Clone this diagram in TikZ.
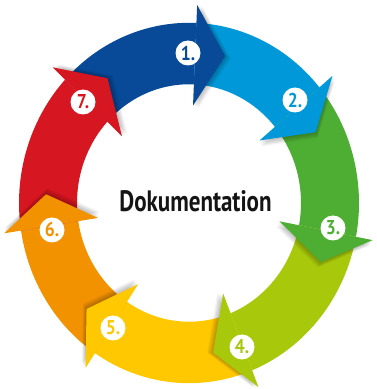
\documentclass[tikz,border=0pt]{standalone}
\usepackage{fontspec}
\newfontfamily\docfont[FakeStretch=0.78]{PT Sans}
\newfontfamily\numfont[FakeStretch=0.88]{PT Sans}
\definecolor{cA}{RGB}{8,74,152}
\definecolor{cB}{RGB}{0,152,216}
\definecolor{cC}{RGB}{78,174,52}
\definecolor{cD}{RGB}{168,200,12}
\definecolor{cE}{RGB}{255,200,0}
\definecolor{cF}{RGB}{242,146,0}
\definecolor{cG}{RGB}{214,22,32}
\begin{document}
\begin{tikzpicture}[x=1pt,y=1pt,
  num/.style={circle, fill=white, minimum size=25pt, inner sep=0pt,
    font=\numfont\bfseries\fontsize{20}{20}\selectfont},
  title/.style={font=\docfont\bfseries\fontsize{29.5}{30}\selectfont, text=black!92, anchor=base}]
\useasboundingbox (0,0) rectangle (376,389);
\begin{scope}[shift={(189,186)}, yscale=1.06]
  % ring bands
  \foreach \a/\b/\c in {-46.8/2.5/cA, 2.5/50.1/cB, 50.1/100.8/cC, 100.8/158.2/cD,
                        158.2/213.6/cE, 213.6/261.2/cF, 261.2/313.2/cG}
    \fill[\c] ({90-\a}:170) arc[start angle={90-\a}, end angle={90-\b}, radius=170]
      -- ({90-\b}:112) arc[start angle={90-\b}, end angle={90-\a}, radius=112] -- cycle;
  % arrow heads with soft shadows
  \foreach \b/\c in {2.5/cA, 50.1/cB, 100.8/cC, 158.2/cD, 213.6/cE, 261.2/cF, 313.2/cG}{
    \begin{scope}[rotate={-\b}]
      \foreach \k in {1,...,5}
        \fill[black, opacity=0.05, shift={(\k*1.1,-\k*0.4)}] (0,187) -- (30,140) -- (0,92) -- cycle;
      \fill[\c] (0,187) -- (30,140) -- (0,92) -- cycle;
    \end{scope}
  }
\end{scope}
\node[num, text=cA] (n1) at (188,336) {1.};
\node[num, text=cB] (n2) at (295,289) {2.};
\node[num, text=cC] (n3) at (333,161) {3.};
\node[num, text=cD] (n4) at (242,42) {4.};
\node[num, text=cE] (n5) at (113,61) {5.};
\node[num, text=cF] (n6) at (52,159) {6.};
\node[num, text=cG] (n7) at (83,287) {7.};
\node[title] (doc) at (195.5,177) {Dokumentation};
\end{tikzpicture}
\end{document}
